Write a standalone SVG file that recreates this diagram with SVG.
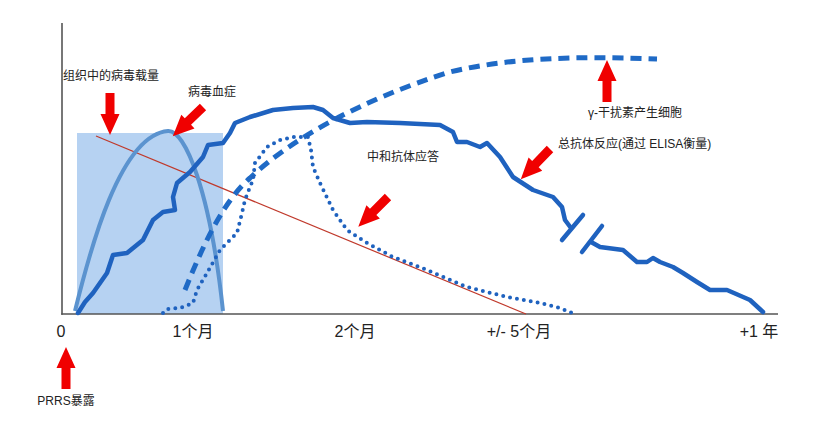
<svg xmlns="http://www.w3.org/2000/svg" xmlns:xlink="http://www.w3.org/1999/xlink" width="820" height="421" viewBox="0 0 820 421">
<style>
text{font-family:"Liberation Sans","Noto Sans CJK SC",sans-serif;fill:#222}
.ax{font-size:16px;text-anchor:middle}
.lb{font-size:12px}
.arrow{fill:#f00000}
.solid{fill:none;stroke:#1f62bf;stroke-width:4.5;stroke-linejoin:round;stroke-linecap:round}
</style>
<defs>
<polygon id="arr" points="0,-4.5 21,-4.5 21,-9.5 42,0 21,9.5 21,4.5 0,4.5"/>
</defs>
<rect width="820" height="421" fill="#fff"/>
<g id="tissue-region">
<rect x="77" y="133" width="146" height="181" fill="#b6d2f2"/>
</g>
<g id="axes" stroke="#555" stroke-width="1.6">
<line x1="62" y1="23" x2="62" y2="314.8"/>
<line x1="61.2" y1="314" x2="778" y2="314"/>
</g>
<g id="connectors">
<line id="tissue-load-line" x1="96" y1="136" x2="526" y2="314" stroke="#c0392b" stroke-width="1.2"/>
<path id="viremia" d="M75,311 C90,250 120,135 168,131 C185,130 210,190 223,311" fill="none" stroke="#5b93cf" stroke-width="4"/>
<path id="ifn-gamma" d="M185,290 C205,240 225,200 250,178 C290,140 360,100 450,72 C520,55 600,57 657,59" fill="none" stroke="#1f6ac6" stroke-width="5" stroke-dasharray="11 7"/>
<polyline id="neutralizing" points="163,313 167,309 180,308 193,303 197,290 207,273 220,250 237,233 242,213 245,200 250,187 253,180 255,163 267,147 280,140 293,137 308,137 311,150 313,167 320,183 333,210 347,230 367,243 393,257 427,270 467,287 507,297 540,303 560,308 577,315" fill="none" stroke="#1f62bf" stroke-width="4" stroke-linecap="round" stroke-dasharray="0 7"/>
<polyline id="total-antibody-1" class="solid" points="78,313 85,302 93,293 107,273 113,255 127,253 143,240 153,220 163,212 175,210 173,197 177,183 190,172 203,157 208,145 223,143 230,133 235,123 250,117 273,110 293,108 313,107 323,110 333,118 350,123 367,122 400,123 440,125 453,132 457,142 467,142 480,147 487,143 500,157 513,177 533,190 553,197 562,207 565,220 571,228"/>
<line class="solid" x1="562" y1="240" x2="583" y2="215"/>
<line class="solid" x1="582" y1="252" x2="602" y2="226"/>
<polyline id="total-antibody-2" class="solid" points="591,242 600,247 623,250 637,262 647,262 653,258 660,262 673,267 683,273 697,282 710,290 727,290 750,300 763,312"/>
</g>
<g id="arrows" class="arrow">
<use xlink:href="#arr" transform="translate(110,93) rotate(90)"/>
<use xlink:href="#arr" transform="translate(203,107) rotate(136)"/>
<use xlink:href="#arr" transform="translate(388,197) rotate(135)"/>
<use xlink:href="#arr" transform="translate(550,149) rotate(134)"/>
<use xlink:href="#arr" transform="translate(607,102) rotate(-90)"/>
<use xlink:href="#arr" transform="translate(66,389) rotate(-90)"/>
</g>
<g id="label-tissue"><text class="lb" x="63" y="80">组织中的病毒载量</text></g>
<g id="label-viremia"><text class="lb" x="188" y="96">病毒血症</text></g>
<g id="label-ifn"><text class="lb" x="588" y="117">γ-干扰素产生细胞</text></g>
<g id="label-total"><text class="lb" x="558" y="148">总抗体反应(通过 ELISA衡量)</text></g>
<g id="label-neutralizing"><text class="lb" x="367" y="161">中和抗体应答</text></g>
<g id="label-exposure"><text class="lb" x="66" y="405" text-anchor="middle">PRRS暴露</text></g>
<g id="axis-labels">
<text class="ax" x="61" y="337">0</text>
<text class="ax" x="193" y="337">1个月</text>
<text class="ax" x="355" y="337">2个月</text>
<text class="ax" x="519" y="337">+/- 5个月</text>
<text class="ax" x="759" y="337">+1 年</text>
</g>
</svg>
